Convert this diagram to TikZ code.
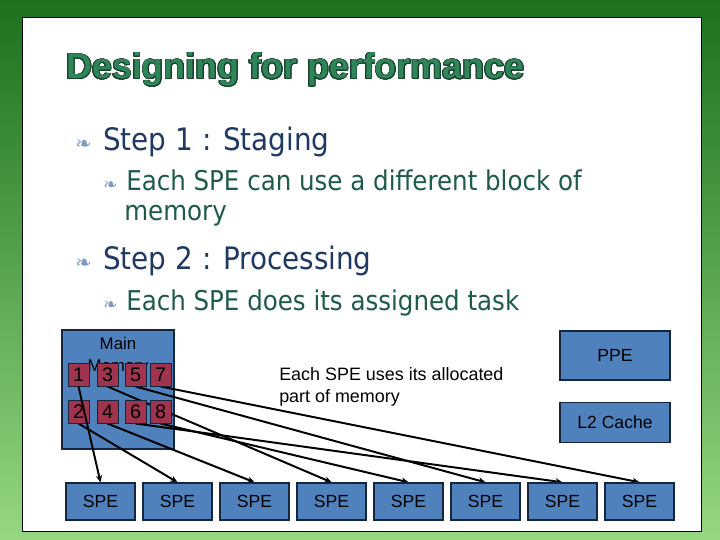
\documentclass[tikz,border=0pt]{standalone}
\usepackage{fontspec}
\setmainfont{Liberation Sans}
\newfontfamily\bodyfont{DejaVu Sans Condensed}
\newfontfamily\symfont{DejaVu Sans}
\usepackage[copies]{contour}
\usetikzlibrary{arrows.meta,positioning,backgrounds}
\definecolor{slideblue}{HTML}{4F81BD}
\definecolor{slideline}{HTML}{17263F}
\definecolor{blockred}{HTML}{A0344E}
\definecolor{titlegreen}{HTML}{2E8558}
\definecolor{titleedge}{HTML}{1A3F2C}
\definecolor{stepnavy}{HTML}{1F3864}
\definecolor{subgreen}{HTML}{1E5C48}
\definecolor{bulletgrey}{HTML}{7D9CC0}
\definecolor{frametop}{RGB}{28,112,30}
\definecolor{framebot}{RGB}{150,215,130}
\contourlength{0.6pt}

\begin{document}
\begin{tikzpicture}[
  box/.style={draw=slideline, line width=1pt, fill=slideblue, font=\fontsize{12.5}{15}\selectfont},
  spebox/.style={box, minimum width=1.725cm, minimum height=0.925cm},
  blk/.style={draw=slideline, line width=0.7pt, fill=blockred, minimum width=0.525cm, minimum height=0.575cm, inner sep=0pt, font=\fontsize{14}{15}\selectfont},
  steptext/.style={anchor=base west, inner sep=0pt, text=stepnavy, font=\bodyfont\fontsize{22}{26}\selectfont},
  subtext/.style={anchor=base west, inner sep=0pt, text=subgreen, font=\bodyfont\fontsize{19.4}{23}\selectfont},
  bul/.style={anchor=base west, inner sep=0pt, text=bulletgrey, font=\symfont\fontsize{14}{15}\selectfont},
  arr/.style={-{Stealth[length=5pt,width=4.5pt]}, line width=1.4pt},
]
\useasboundingbox (0,0) rectangle (18,13.5);

% Slide frame
\begin{scope}[on background layer]
\shade[top color=frametop, bottom color=framebot] (0,0) rectangle (18,13.5);
\draw[fill=white, line width=0.6pt] (0.55,0.225) rectangle (17.525,13.075);
\node[box, minimum width=2.8cm, minimum height=2.975cm] (mainmem) at (2.95,3.7625) {};
\end{scope}

% Title
\node[anchor=base west, inner sep=0pt, text=titlegreen, font=\fontsize{25.5}{30}\selectfont\bfseries] (title) at (1.65,11.525) {\contour{titleedge}{Designing for performance}};

% Bullets
\node[bul] (bul1) at (1.875,9.7375) {❧};
\node[steptext] (step1) at (2.575,9.7375) {Step 1 : Staging};
\node[bul, font=\symfont\fontsize{12}{14}\selectfont] (bul2) at (2.575,8.725) {❧};
\node[subtext] (sub1) at (3.15,8.725) {Each SPE can use a different block of};
\node[subtext] (sub1b) at (3.1,7.975) {memory};
\node[bul] (bul3) at (1.875,6.7625) {❧};
\node[steptext] (step2) at (2.575,6.7625) {Step 2 : Processing};
\node[bul, font=\symfont\fontsize{12}{14}\selectfont] (bul4) at (2.575,5.725) {❧};
\node[subtext] (sub2) at (3.15,5.725) {Each SPE does its assigned task};

% Main memory and its blocks
\node[align=center, font=\fontsize{12}{15.5}\selectfont] (memlabel) at (2.95,4.5875) {Main\\Memory};
\foreach \n/\x/\y in {1/1.9625/4.1375, 3/2.6875/4.1375, 5/3.3875/4.1375, 7/4.0125/4.1375,
                      2/1.9625/3.2125, 4/2.6875/3.2125, 6/3.3875/3.2125, 8/4.0125/3.2125}
  \node[blk] (b\n) at (\x,\y) {\n};

% SPEs
\foreach \i in {1,...,8}
  \node[spebox] (spe\i) at ({2.5125+1.925*(\i-1)},0.9625) {SPE};

% PPE and cache
\node[box, minimum width=2.75cm, minimum height=1.225cm] (ppe) at (15.375,4.6125) {PPE};
\node[box, minimum width=2.75cm, minimum height=1.0cm] (ltwo) at (15.375,2.9375) {L2 Cache};

\node[anchor=west, align=left, inner sep=0pt, font=\fontsize{12.75}{15.6}\selectfont] (note) at (6.975,3.825) {Each SPE uses its allocated\\part of memory};

% Block to SPE arrows
\begin{scope}[on background layer]
\foreach \a/\b in {2/2, 4/3, 3/4, 8/5, 5/6, 6/7, 7/8}
  \draw[arr] (b\a.south) -- (spe\b.north);
\end{scope}
\draw[arr] (b1.south) -- (spe1.north);

\end{tikzpicture}
\end{document}
